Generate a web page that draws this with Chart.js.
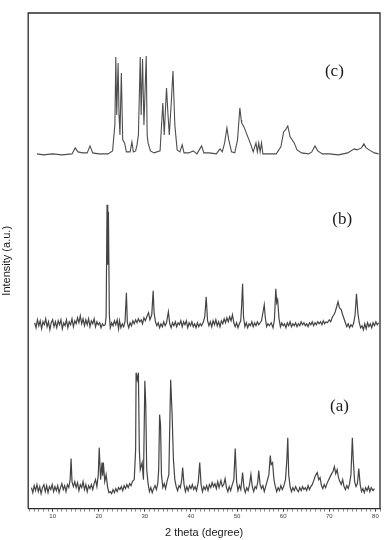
<!DOCTYPE html>
<html>
<head>
<meta charset="utf-8">
<script src="https://cdn.jsdelivr.net/npm/chart.js@4/dist/chart.umd.min.js"></script>
<style>
html,body{margin:0;padding:0;background:#fff;}
#wrap{width:387px;height:540px;}
</style>
</head>
<body>
<div id="wrap"><canvas id="c" width="387" height="540"></canvas></div>
<script>
// 2θ (degree) vs intensity (a.u.), each trace relative to its own baseline
const traceA = [[5.4,2],[5.7,-3],[6.0,4],[6.3,-1],[6.6,5],[6.9,-2],[7.2,3],[7.5,-4],[7.8,2],[8.1,5],[8.4,-2],[8.7,4],[9.0,-3],[9.3,3],[9.6,0],[9.9,5],[10.2,-2],[10.5,3],[10.8,-1],[11.1,4],[11.4,-3],[11.7,2],[12.0,6],[12.3,0],[12.6,4],[12.9,-2],[13.2,5],[13.5,2],[13.8,10],[14.0,31],[14.2,8],[14.5,3],[14.8,8],[15.1,2],[15.4,7],[15.7,-1],[16.0,5],[16.3,2],[16.6,8],[16.9,0],[17.2,5],[17.5,-2],[17.8,4],[18.1,1],[18.4,5],[18.7,0],[19.0,6],[19.3,10],[19.6,3],[19.9,15],[20.1,42],[20.4,10],[20.7,27],[20.85,14],[21.0,27],[21.3,8],[21.6,15],[21.9,3],[22.2,-3],[22.5,-2],[22.8,-4],[23.1,0],[23.4,-3],[23.7,1],[24.0,-2],[24.3,2],[24.6,0],[24.9,3],[25.2,-1],[25.5,4],[25.8,1],[26.1,5],[26.4,2],[26.7,6],[27.0,4],[27.3,8],[27.7,10],[28.0,40],[28.1,117],[28.35,110],[28.6,117],[28.8,40],[29.0,20],[29.4,27],[29.7,10],[30.0,109],[30.2,85],[30.4,20],[30.7,6],[31.0,-2],[31.3,2],[31.6,-3],[31.9,1],[32.2,4],[32.5,0],[32.8,6],[33.0,20],[33.2,75],[33.4,65],[33.6,15],[33.9,2],[34.2,6],[34.5,1],[34.8,8],[35.2,15],[35.6,110],[35.9,77],[36.2,30],[36.5,10],[36.8,3],[37.1,-1],[37.4,4],[37.7,2],[38.0,10],[38.2,22],[38.5,5],[38.8,-2],[39.1,3],[39.4,-1],[39.7,4],[40.0,1],[40.3,5],[40.6,0],[40.9,3],[41.2,-1],[41.6,8],[41.9,27],[42.2,5],[42.5,-2],[42.8,3],[43.1,0],[43.4,4],[43.7,-1],[44.0,5],[44.3,2],[44.6,7],[44.9,3],[45.2,6],[45.5,1],[45.8,8],[46.1,2],[46.5,9],[46.8,3],[47.1,5],[47.4,11],[47.7,2],[48.0,-2],[48.3,3],[48.6,-1],[48.9,4],[49.3,10],[49.6,41],[49.9,8],[50.2,-1],[50.5,4],[50.8,0],[51.0,8],[51.2,17],[51.5,2],[51.8,-3],[52.1,2],[52.4,-1],[52.7,5],[53.0,15],[53.3,3],[53.6,-2],[53.9,3],[54.2,1],[54.5,8],[54.7,19],[55.0,5],[55.3,1],[55.6,4],[55.9,-2],[56.2,3],[56.5,8],[56.9,15],[57.2,34],[57.4,25],[57.7,27],[58.0,10],[58.3,3],[58.6,-2],[58.9,2],[59.2,-1],[59.5,4],[59.8,0],[60.1,3],[60.5,10],[60.8,30],[61.0,52],[61.2,15],[61.5,3],[61.8,-2],[62.1,2],[62.4,-1],[62.7,3],[63.0,0],[63.3,-2],[63.6,2],[63.9,-1],[64.2,3],[64.5,0],[64.8,2],[65.1,-1],[65.4,4],[65.7,0],[66.0,3],[66.3,5],[66.7,10],[67.0,14],[67.4,17],[67.7,10],[68.0,12],[68.3,4],[68.6,1],[68.9,5],[69.2,2],[69.5,6],[69.8,9],[70.1,12],[70.4,15],[70.8,18],[71.1,23],[71.4,16],[71.7,20],[72.0,12],[72.3,8],[72.6,5],[72.9,10],[73.2,3],[73.5,0],[73.8,4],[74.1,1],[74.4,6],[74.7,15],[75.0,52],[75.2,30],[75.5,8],[75.8,3],[76.1,6],[76.4,21],[76.7,5],[77.0,-2],[77.3,1],[77.6,-3],[77.9,2],[78.2,-1],[78.5,3],[78.8,-2],[79.1,2],[79.5,-1],[79.8,1]];

const traceB = [[6.1,2],[6.4,-3],[6.7,5],[7.0,-1],[7.3,4],[7.6,-4],[7.9,3],[8.2,0],[8.5,6],[8.8,-2],[9.1,3],[9.4,-5],[9.7,2],[10.0,5],[10.3,-2],[10.6,3],[10.9,-3],[11.2,4],[11.5,0],[11.8,5],[12.1,-4],[12.4,2],[12.7,-1],[13.0,5],[13.3,-3],[13.6,3],[13.9,0],[14.2,6],[14.5,-2],[14.8,4],[15.1,1],[15.4,7],[15.7,2],[16.0,9],[16.3,1],[16.6,6],[16.9,-1],[17.2,5],[17.5,0],[17.8,6],[18.1,-2],[18.4,4],[18.7,1],[19.0,6],[19.3,-2],[19.6,3],[19.9,0],[20.2,2],[20.5,-3],[20.8,1],[21.1,-1],[21.4,0],[21.6,8],[21.8,120],[21.95,60],[22.1,113],[22.3,10],[22.5,-3],[22.8,2],[23.1,-1],[23.4,4],[23.7,0],[24.0,5],[24.3,-4],[24.5,4],[24.8,-3],[25.1,1],[25.4,-2],[25.7,3],[26.0,32],[26.2,2],[26.5,-3],[26.8,2],[27.1,-1],[27.4,4],[27.7,1],[28.0,5],[28.3,2],[28.6,6],[28.9,3],[29.2,5],[29.5,1],[29.8,7],[30.1,4],[30.5,9],[30.8,12],[31.1,5],[31.5,10],[31.8,34],[32.0,12],[32.3,3],[32.6,-1],[32.9,2],[33.2,-3],[33.5,1],[33.8,-2],[34.1,3],[34.4,-1],[34.7,2],[35.1,13],[35.4,1],[35.7,-3],[36.0,2],[36.3,-1],[36.6,3],[36.9,-2],[37.2,2],[37.5,0],[37.8,4],[38.1,-2],[38.4,3],[38.7,0],[39.0,4],[39.3,-3],[39.6,2],[39.9,-1],[40.2,3],[40.5,-2],[40.8,1],[41.1,-3],[41.4,2],[41.7,-2],[42.0,1],[42.3,-1],[42.7,3],[43.0,8],[43.3,28],[43.6,4],[43.9,-1],[44.2,3],[44.5,-2],[44.8,4],[45.1,0],[45.4,5],[45.7,-1],[46.0,3],[46.3,-2],[46.6,4],[46.9,1],[47.2,6],[47.5,2],[47.8,7],[48.1,3],[48.4,8],[48.7,4],[49.0,10],[49.3,2],[49.6,-2],[49.9,2],[50.2,-3],[50.5,1],[50.8,4],[51.0,20],[51.2,41],[51.4,8],[51.7,-2],[52.0,2],[52.3,-3],[52.6,1],[52.9,-1],[53.2,3],[53.5,-2],[53.8,2],[54.1,-1],[54.4,3],[54.7,0],[55.0,2],[55.3,4],[55.6,12],[55.9,20],[56.1,8],[56.4,-2],[56.7,1],[57.0,-1],[57.4,2],[57.8,-3],[58.1,5],[58.4,36],[58.6,22],[58.8,25],[59.1,6],[59.4,-2],[59.7,2],[60.0,-1],[60.3,1],[60.6,-3],[60.9,2],[61.2,-1],[61.5,3],[61.8,-2],[62.1,1],[62.4,-1],[62.7,2],[63.0,-2],[63.3,1],[63.6,-1],[63.9,3],[64.2,0],[64.5,2],[64.8,-1],[65.1,1],[65.4,-2],[65.7,2],[66.0,0],[66.3,3],[66.6,-1],[66.9,2],[67.2,0],[67.5,3],[67.8,1],[68.1,3],[68.4,0],[68.7,4],[69.0,1],[69.3,3],[69.6,2],[70.0,5],[70.3,3],[70.7,8],[71.0,10],[71.3,13],[71.6,18],[71.9,23],[72.2,17],[72.6,15],[72.9,10],[73.2,6],[73.5,2],[73.8,-2],[74.1,1],[74.4,-3],[74.7,0],[75.0,-2],[75.3,2],[75.6,10],[75.9,31],[76.2,12],[76.5,2],[76.8,-3],[77.1,-1],[77.4,-5],[77.7,1],[78.0,-4],[78.3,2],[78.6,-2],[78.9,1],[79.2,-3],[79.5,2],[79.8,-1],[80.1,3],[80.4,0],[80.7,2]];

const traceC = [[6.6,1],[8.0,0],[10.0,1],[12.0,0],[14.2,1],[14.9,7],[15.5,3],[16.5,2],[17.5,2],[18.1,9],[18.7,2],[20.0,1],[22.0,1],[23.0,4],[23.5,30],[23.7,98],[23.9,40],[24.2,92],[24.4,40],[24.6,20],[24.9,82],[25.2,15],[25.6,12],[26.0,3],[26.8,3],[27.2,13],[27.5,3],[28.0,4],[28.3,10],[28.6,20],[29.0,98],[29.2,40],[29.5,96],[29.8,30],[30.3,99],[30.5,20],[30.7,12],[31.2,4],[32.0,2],[33.3,4],[33.9,52],[34.2,20],[34.7,67],[35.0,42],[35.3,20],[35.7,50],[36.1,84],[36.5,30],[37.0,5],[37.6,3],[38.1,10],[38.5,2],[39.5,2],[40.5,4],[41.3,1],[42.3,9],[42.8,2],[44.0,2],[45.5,1],[46.3,6],[46.8,3],[47.3,12],[47.8,27],[48.2,15],[48.8,3],[49.5,2],[50.1,15],[50.6,47],[50.9,35],[51.0,32],[51.5,28],[52.0,22],[52.5,16],[53.0,10],[53.5,3],[54.1,12],[54.4,3],[54.7,12],[55.0,3],[55.3,12],[55.6,1],[57.0,1],[58.5,1],[59.5,8],[60.1,23],[60.5,25],[61.0,29],[61.5,18],[62.4,12],[63.0,5],[64.0,2],[65.5,1],[66.2,3],[66.9,9],[67.5,4],[68.5,1],[70.0,1],[72.0,0],[74.0,2],[75.4,6],[76.0,5],[77.0,7],[77.5,11],[78.0,7],[79.0,4],[79.8,2],[80.7,1]];

// vertical stacking offsets of each pattern
const offsetA = 19;
const offsetB = 184;
const offsetC = 354;

const seriesNames = ['(a)', '(b)', '(c)'];
const xTickLabels = [10, 20, 30, 40, 50, 60, 70, 80];

// label anchors in data units [2θ, stacked intensity]
const labelAnchors = [[72.2, 102], [72.8, 289], [71.1, 437]];

function toPoints(trace, off) {
  return trace.map(p => ({ x: p[0], y: p[1] + off }));
}

const framePlugin = {
  id: 'frame',
  afterDraw(chart) {
    const { ctx, chartArea: a } = chart;
    ctx.save();
    ctx.lineWidth = 1.3;
    ctx.strokeStyle = '#2a2a2a';
    ctx.beginPath();
    ctx.moveTo(a.left, a.bottom);
    ctx.lineTo(a.left, a.top);
    ctx.lineTo(a.right, a.top);
    ctx.lineTo(a.right, a.bottom);
    ctx.stroke();
    // series labels
    ctx.fillStyle = '#1a1a1a';
    ctx.font = '17px "Liberation Serif", "DejaVu Serif", serif';
    ctx.textAlign = 'center';
    ctx.textBaseline = 'middle';
    const xs = chart.scales.x, ys = chart.scales.y;
    seriesNames.forEach((n, i) => {
      ctx.fillText(n, xs.getPixelForValue(labelAnchors[i][0]), ys.getPixelForValue(labelAnchors[i][1]));
    });
    ctx.restore();
  }
};

new Chart(document.getElementById('c'), {
  type: 'line',
  data: {
    datasets: [
      { label: '(a)', data: toPoints(traceA, offsetA), borderColor: '#444444', borderWidth: 1.2 },
      { label: '(b)', data: toPoints(traceB, offsetB), borderColor: '#444444', borderWidth: 1.2 },
      { label: '(c)', data: toPoints(traceC, offsetC), borderColor: '#4d4d4d', borderWidth: 1.1 }
    ]
  },
  options: {
    responsive: false,
    animation: false,
    parsing: false,
    elements: { point: { radius: 0 }, line: { tension: 0 } },
    layout: { padding: { left: 0, right: 7, top: 13, bottom: 0 } },
    plugins: { legend: { display: false }, tooltip: { enabled: false } },
    scales: {
      x: {
        type: 'linear',
        min: 4.7,
        max: 81,
        border: { display: true, color: '#2a2a2a', width: 1.3 },
        grid: {
          display: true,
          drawOnChartArea: false,
          drawTicks: true,
          tickLength: 3,
          tickColor: ctx => (ctx.tick && xTickLabels.includes(ctx.tick.value)) ? '#333' : '#888',
          tickWidth: 1
        },
        ticks: {
          stepSize: 1,
          autoSkip: false,
          maxRotation: 0,
          includeBounds: false,
          padding: 1,
          color: '#444',
          font: { family: '"Liberation Sans", Arial, sans-serif', size: 6 },
          callback: v => xTickLabels.includes(v) ? String(v) : ''
        },
        title: {
          display: true,
          text: '2 theta (degree)',
          color: '#1a1a1a',
          font: { family: '"Liberation Sans", Arial, sans-serif', size: 11 },
          padding: { top: 6, bottom: 0 }
        }
      },
      y: {
        type: 'linear',
        min: 0,
        max: 496,
        border: { display: false },
        grid: { display: false },
        ticks: { display: false },
        title: {
          display: true,
          text: 'Intensity (a.u.)',
          color: '#1a1a1a',
          font: { family: '"Liberation Sans", Arial, sans-serif', size: 11 },
          padding: { top: 0, bottom: 7 }
        }
      }
    }
  },
  plugins: [framePlugin]
});
</script>
</body>
</html>
